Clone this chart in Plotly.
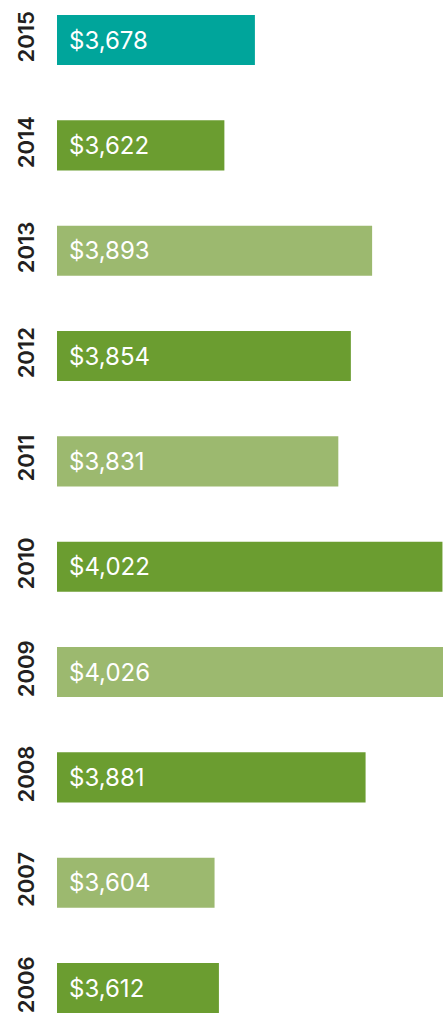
import plotly.graph_objects as go

years = ["2006", "2007", "2008", "2009", "2010", "2011", "2012", "2013", "2014", "2015"]
values = [3612, 3604, 3881, 4026, 4022, 3831, 3854, 3893, 3622, 3678]
colors = ["#6b9d30", "#9cb96f", "#6b9d30", "#9cb96f", "#6b9d30",
          "#9cb96f", "#6b9d30", "#9cb96f", "#6b9d30", "#00a59b"]
labels = ["${:,}".format(v) for v in values]

x_min, x_max = 3315, 4023

fig = go.Figure()
fig.add_trace(go.Bar(
    x=values, y=years, orientation="h",
    marker=dict(color=colors, line=dict(width=0)),
    hoverinfo="skip",
))

for i, lab in enumerate(labels):
    fig.add_annotation(
        x=0, y=i, xref="paper", yref="y", text=lab, showarrow=False,
        xanchor="left", yanchor="middle", xshift=10, yshift=0,
        font=dict(family="Inter", size=24, color="white"),
    )

fig.update_layout(
    width=445, height=1025,
    margin=dict(l=57, r=2, t=0, b=0),
    paper_bgcolor="white", plot_bgcolor="white",
    bargap=0.525,
    showlegend=False,
    xaxis=dict(range=[x_min, x_max], visible=False, fixedrange=True, automargin=False),
    yaxis=dict(
        type="category", categoryorder="array", categoryarray=years,
        range=[-0.351, 9.380], automargin=False,
        tickangle=-90, showgrid=False, zeroline=False, showline=False,
        ticks="", ticklabelstandoff=18,
        tickfont=dict(family="Inter", size=22, color="#231f20", weight=600),
    ),
)

fig.write_html("out.html", config={"displayModeBar": False},
               post_script="document.body.style.margin='0';")
